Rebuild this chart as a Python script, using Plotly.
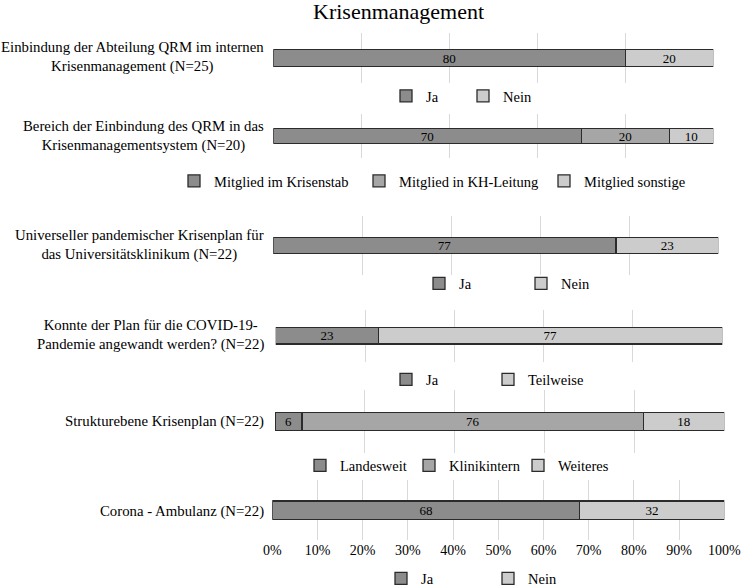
import plotly.graph_objects as go

# ---------------- data ----------------
title_text = "Krisenmanagement"

categories = [
    "Einbindung der Abteilung QRM im internen<br>Krisenmanagement (N=25)",
    "Bereich der Einbindung des QRM in das<br>Krisenmanagementsystem (N=20)",
    "Universeller pandemischer Krisenplan für<br>das Universitätsklinikum (N=22)",
    "Konnte der Plan für die COVID-19-<br>Pandemie angewandt werden? (N=22)",
    "Strukturebene Krisenplan (N=22)",
    "Corona - Ambulanz (N=22)",
]

p1_series = ["Ja", "Nein"]
p1_values = [80, 20]

p2_series = ["Mitglied im Krisenstab", "Mitglied in KH-Leitung", "Mitglied sonstige"]
p2_values = [70, 20, 10]

p3_series = ["Ja", "Nein"]
p3_values = [77, 23]

p4_series = ["Ja", "Teilweise"]
p4_values = [23, 77]

p5_series = ["Landesweit", "Klinikintern", "Weiteres"]
p5_values = [6, 76, 18]

p6_series = ["Ja", "Nein"]
p6_values = [68, 32]

tick_values = [0, 10, 20, 30, 40, 50, 60, 70, 80, 90, 100]
tick_labels = ["0%", "10%", "20%", "30%", "40%", "50%", "60%", "70%", "80%", "90%", "100%"]

# ---------------- styling / layout ----------------
W, H = 742, 587
FONT = "Liberation Serif, Times New Roman, serif"
DARK = "#8c8c8c"
MID = "#a6a6a6"
LIGHT = "#cccccc"
EDGE = "#2b2b2b"
GRID = "#d9d9d9"


def xf(px):
    return px / W


def yf(py):
    return 1 - py / H


panels = [
    dict(series=p1_series, values=p1_values, colors=[DARK, LIGHT],
         x0=273.3, x1=713.3, y0=33.3, y1=83.3, barw=0.34, dtick=20,
         label_y=57, leg_y=96, leg_x=[408, 485]),
    dict(series=p2_series, values=p2_values, colors=[DARK, MID, LIGHT],
         x0=273.3, x1=713.3, y0=114.3, y1=157.7, barw=0.33, dtick=20,
         label_y=136, leg_y=181, leg_x=[196, 381, 566]),
    dict(series=p3_series, values=p3_values, colors=[DARK, LIGHT],
         x0=273.3, x1=718.3, y0=216, y1=275, barw=0.28, dtick=20,
         label_y=245, leg_y=283.5, leg_x=[441, 543]),
    dict(series=p4_series, values=p4_values, colors=[DARK, LIGHT],
         x0=275.7, x1=722.3, y0=310, y1=361.7, barw=0.32, dtick=20,
         label_y=335, leg_y=379.5, leg_x=[408, 510]),
    dict(series=p5_series, values=p5_values, colors=[DARK, MID, LIGHT],
         x0=275, x1=724.3, y0=390, y1=453.3, barw=0.285, dtick=20,
         label_y=421.7, leg_y=465.5, leg_x=[322, 431, 542]),
    dict(series=p6_series, values=p6_values, colors=[DARK, LIGHT],
         x0=272.3, x1=724.3, y0=480, y1=540, barw=0.305, dtick=10,
         label_y=511, leg_y=578.5, leg_x=[403, 510]),
]

fig = go.Figure()
layout_extra = {}
annotations = []

for i, (p, cat) in enumerate(zip(panels, categories)):
    n = i + 1
    xa = "x" if n == 1 else f"x{n}"
    ya = "y" if n == 1 else f"y{n}"
    leg = "legend" if n == 1 else f"legend{n}"
    for name, val, col in zip(p["series"], p["values"], p["colors"]):
        fig.add_trace(go.Bar(
            x=[val], y=[cat], name=name, orientation="h",
            xaxis=xa, yaxis=ya, legend=leg,
            width=p["barw"],
            marker=dict(color=col, line=dict(color=EDGE, width=1.3)),
            text=[val], texttemplate="%{text}", textposition="inside",
            insidetextanchor="middle", textangle=0, constraintext="none",
            textfont=dict(family=FONT, size=13, color="#000000"),
            hoverinfo="name+x",
        ))
    last = (n == len(panels))
    axkey = "xaxis" if n == 1 else f"xaxis{n}"
    aykey = "yaxis" if n == 1 else f"yaxis{n}"
    layout_extra[axkey] = dict(
        domain=[xf(p["x0"]), xf(p["x1"])], anchor=ya,
        range=[0, 100], showgrid=True, gridcolor=GRID, gridwidth=1,
        tickmode="array",
        tickvals=[v for v in tick_values if v % p["dtick"] == 0],
        ticktext=[t for v, t in zip(tick_values, tick_labels) if v % p["dtick"] == 0],
        showticklabels=last, ticks="", zeroline=False, showline=False,
        tickfont=dict(family=FONT, size=14, color="#000000"),
        fixedrange=True,
    )
    layout_extra[aykey] = dict(
        domain=[yf(p["y1"]), yf(p["y0"])], anchor=xa,
        range=[-0.5, 0.5], showticklabels=False, showgrid=False,
        zeroline=False, showline=False, ticks="", fixedrange=True,
    )
    spacing = p["leg_x"][1] - p["leg_x"][0]
    layout_extra[leg] = dict(
        orientation="h", x=xf(p["leg_x"][0] - 22), xanchor="left",
        y=yf(p["leg_y"]), yanchor="middle",
        entrywidth=spacing - 45, entrywidthmode="pixels",
        font=dict(family=FONT, size=14.5, color="#000000"),
        bgcolor="rgba(0,0,0,0)", borderwidth=0, traceorder="normal",
        itemclick=False, itemdoubleclick=False,
    )
    annotations.append(dict(
        text=cat, x=xf(266), y=yf(p["label_y"]), xref="paper", yref="paper",
        xanchor="right", yanchor="middle", align="center", showarrow=False,
        font=dict(family=FONT, size=14.8, color="#000000"),
    ))

annotations.append(dict(
    text=title_text, x=xf(398), y=yf(11), xref="paper", yref="paper",
    xanchor="center", yanchor="middle", showarrow=False,
    font=dict(family=FONT, size=22, color="#000000"),
))

fig.update_layout(
    width=W, height=H,
    margin=dict(l=0, r=0, t=0, b=0, pad=0, autoexpand=False),
    paper_bgcolor="white", plot_bgcolor="white",
    barmode="stack", showlegend=True,
    annotations=annotations,
    font=dict(family=FONT, color="#000000"),
    **layout_extra,
)

fig.write_html(
    "out.html",
    config={"displayModeBar": False},
    post_script="document.body.style.margin='0';document.body.style.padding='0';"
                "document.body.style.overflow='hidden';",
)
